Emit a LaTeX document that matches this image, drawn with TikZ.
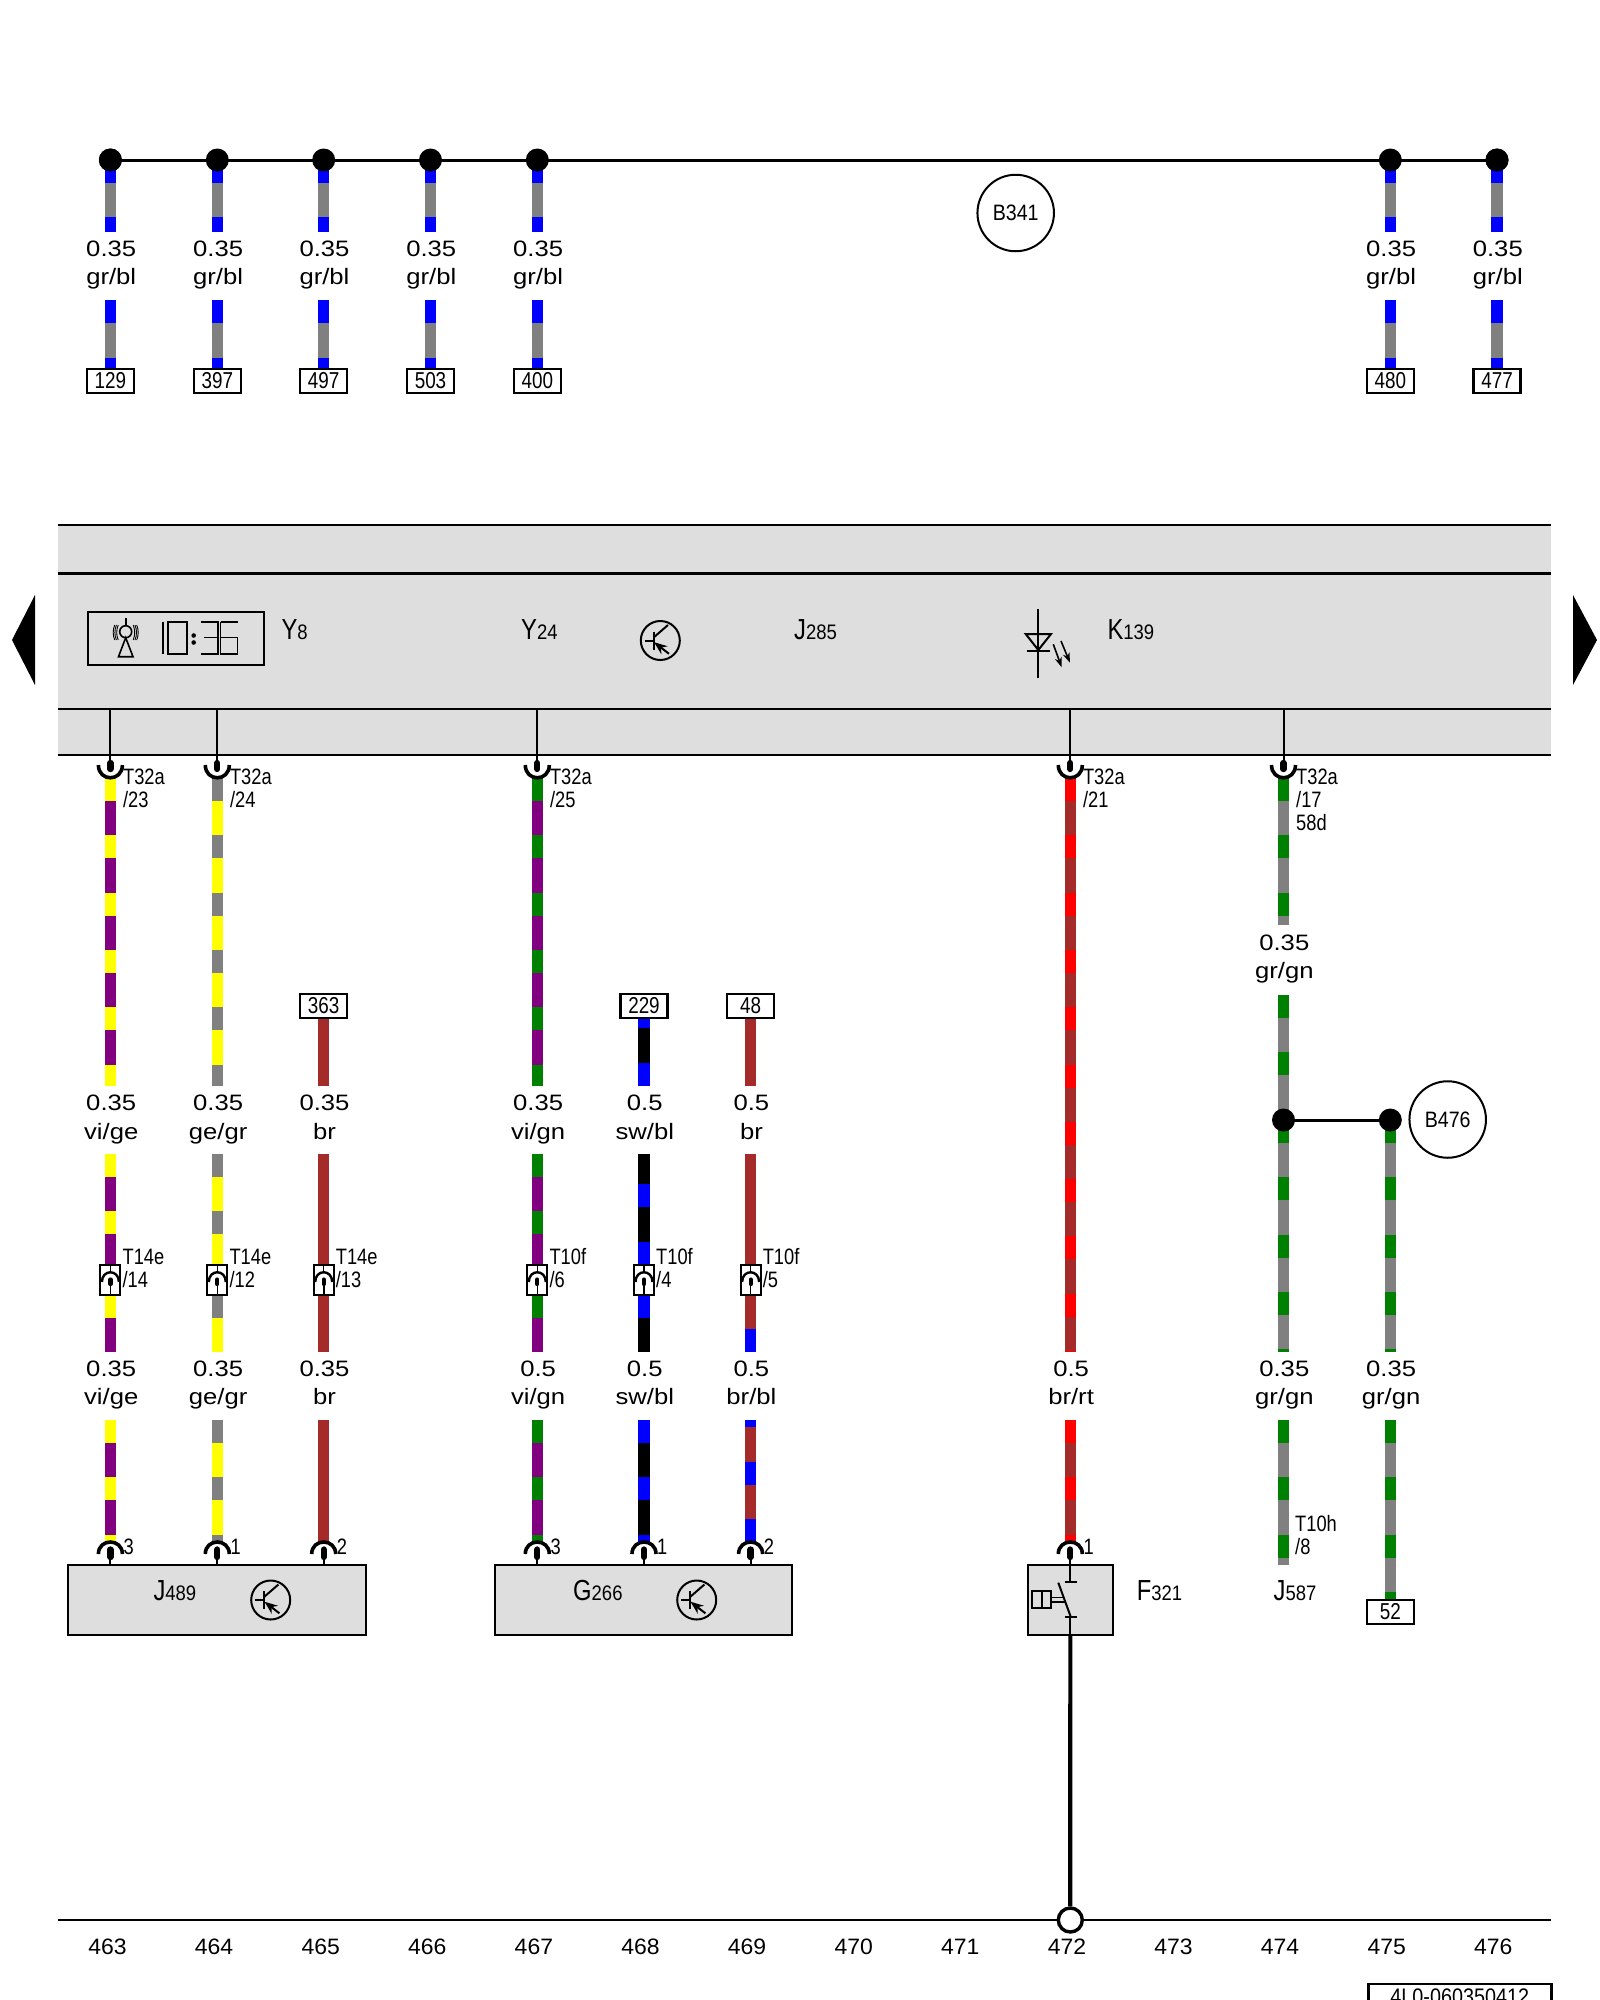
\documentclass[tikz,border=0pt]{standalone}
\usepackage{fontspec}
\usetikzlibrary{arrows.meta}
\setmainfont{Liberation Sans}
\newfontfamily\fwide[FakeStretch=1.15]{Liberation Sans}
\newfontfamily\fnorm[FakeStretch=1.03]{Liberation Sans}
\newfontfamily\fnarrow[FakeStretch=0.82]{Liberation Sans}
\newfontfamily\fmid[FakeStretch=0.88]{Liberation Sans}
\definecolor{wbl}{HTML}{0000FF}
\definecolor{wgr}{HTML}{808080}
\definecolor{wge}{HTML}{FFFF00}
\definecolor{wvi}{HTML}{800080}
\definecolor{wgn}{HTML}{008000}
\definecolor{wbr}{HTML}{A52A2A}
\definecolor{wrt}{HTML}{FF0000}
\definecolor{wsw}{HTML}{000000}
\definecolor{panel}{HTML}{DEDEDE}
\tikzset{
  wirestyle/.style={line width=11.5pt},
  dot/.style={circle,fill=black,minimum size=23pt,inner sep=0pt,outer sep=0pt},
  wiretext/.style={anchor=base,inner sep=0pt,font=\fwide\fontsize{22.3}{24}\selectfont},
  tagtext/.style={anchor=base west,inner sep=0pt,font=\fnarrow\fontsize{22.3}{24}\selectfont},
  numbox/.style={draw=black,line width=2.2pt,fill=white,minimum width=47pt,minimum height=24pt,inner sep=0pt,outer sep=0pt,font=\fnarrow\fontsize{23}{24}\selectfont},
  ringnode/.style={draw=black,line width=2pt,circle,fill=white,minimum size=76.5pt,inner sep=0pt,font=\fmid\fontsize{22.3}{24}\selectfont},
  compbox/.style={draw=black,line width=2.1pt,fill=panel,minimum height=69.7pt,inner sep=0pt,outer sep=0pt},
  compname/.style={anchor=base west,inner sep=0pt},
  colnum/.style={anchor=base,inner sep=0pt,font=\fnorm\fontsize{22.3}{24}\selectfont},
  rail/.style={line width=2.4pt,black},
  thinl/.style={line width=2pt,black},
  arcl/.style={line width=3.6pt,black},
  pinfill/.style={line width=6.3pt,black,line cap=round},
}
\newcommand{\elwire}[7]{% name,x,y1,y2,c1,c2,y0
  \coordinate (#1a) at (#2,#3);
  \coordinate (#1b) at (#2,#4);
  \draw[wirestyle,#6] (#1a) -- (#1b);
  \pgfmathsetmacro\wph{mod(#3-#7,57.3)}
  \draw[wirestyle,#5,dash pattern=on 23pt off 34.3pt,dash phase=\wph pt] (#1a) -- (#1b);
}
\newcommand{\wlab}[5]{% name,x,baseline,l1,l2
  \node[wiretext] (#1s) at ({#2+0.8},#3) {#4};
  \node[wiretext] (#1c) at ({#2+0.8},#3+28.5) {#5};
}
\newcommand{\pinU}[2]{% name,x panel pin
  \coordinate (#1t) at (#2,709);
  \coordinate (#1m) at (#2,762);
  \draw[thinl] (#1t) -- (#1m);
  \draw[pinfill] (#2,763) -- (#2,769);
  \draw[arcl] ({#2-12},765) .. controls ({#2-12},782) and ({#2+12},782) .. ({#2+12},765);
}
\newcommand{\pinD}[2]{% name,x component pin
  \coordinate (#1t) at (#2,1550);
  \coordinate (#1b) at (#2,1565);
  \draw[pinfill] (#2,1549.5) -- (#2,1557);
  \draw[thinl] (#1t) -- (#1b);
  \draw[arcl] ({#2-12},1554) .. controls ({#2-12},1538) and ({#2+12},1538) .. ({#2+12},1554);
}
\newcommand{\inlbox}[2]{% name,x
  \node[draw=black,line width=2pt,fill=white,minimum width=20pt,minimum height=29.5pt,inner sep=0pt,outer sep=0pt] (#1) at (#2,1280) {};
  \draw[line width=1.3pt] (#1.north) -- (#2,1273);
  \draw[line width=2.4pt] ({#2-8.5},1282) .. controls ({#2-8.5},1269) and ({#2+8.5},1269) .. ({#2+8.5},1282);
  \draw[line width=1.6pt] (#2,1284) -- (#1.south);
  \draw[line width=4.2pt,line cap=round] (#2,1279.5) -- (#2,1284);
}
\newcommand{\transistor}[2]{%
  \draw[line width=2pt,fill=panel] (#1,#2) circle[radius=19.5];
  \draw[line width=2pt] ({#1-15.7},#2) -- ({#1-6.7},#2);
  \draw[line width=2pt] ({#1-6.7},{#2-9}) -- ({#1-6.7},{#2+9});
  \draw[line width=2pt] ({#1-6.7},{#2-3}) -- ({#1+7.7},{#2-15.5});
  \draw[line width=2pt,-{Stealth[length=13pt,width=10pt]}] ({#1+8.7},{#2+13.3}) -- ({#1-6.2},{#2+1.7});
}
\newcommand{\bigsub}[2]{{\fnarrow\fontsize{29}{30}\selectfont #1}{\fmid\fontsize{21}{24}\selectfont #2}}
\begin{document}
\begin{tikzpicture}[x=1pt,y=-1pt]
\useasboundingbox (0,0) rectangle (1600,2000);
% panel
\fill[panel] (57.5,525) rectangle (1550.6,755);
\draw[rail] (57.5,525) -- (1550.6,525);
\draw[rail] (57.5,573.5) -- (1550.6,573.5);
\draw[rail] (57.5,709) -- (1550.6,709);
\draw[rail,line width=2.8pt] (57.5,755) -- (1550.6,755);
\fill (35,595) -- (12,640) -- (35,685) -- cycle;
\fill (1573,595) -- (1597,640) -- (1573,685) -- cycle;
% Y8 display
\draw[line width=2.2pt] (87.8,611.7) rectangle (263.7,665);
\draw[line width=1.6pt] (125.7,618) -- (125.7,626);
\draw[line width=1.6pt] (125.7,631.7) circle[radius=6];
\draw[line width=1.6pt] (125.7,637.7) -- (118.5,656.7) -- (133,656.7) -- cycle;
\foreach \s in {-1,1}{
  \foreach \d in {7.5,9.3,11}{
    \draw[line width=0.9pt] ({125.7+\s*\d},625) .. controls ({125.7+\s*(\d+2)},630) and ({125.7+\s*(\d+2)},635) .. ({125.7+\s*\d},640);
  }
}
\draw[line width=2pt] (162.5,621.7) -- (162.5,654);
\draw[line width=1.8pt] (168,621.7) rectangle (186.6,654);
\fill (193.7,635.5) circle[radius=2.3];
\fill (193.7,642.5) circle[radius=2.3];
\draw[line width=1.8pt] (200.8,621.7) -- (217.8,621.7) -- (217.8,654) -- (200.8,654);
\draw[line width=1.8pt] (204,637.5) -- (217.8,637.5);
\draw[line width=1.8pt] (237.5,637.5) -- (220.5,637.5) -- (220.5,621.7);
\draw[line width=1.8pt] (220.5,637.5) -- (220.5,654) -- (237.5,654) -- (237.5,637.5);
\draw[line width=1.8pt] (220.5,621.7) -- (237.5,621.7);
\node[compname] (y8) at (281.4,639.3) {\bigsub{Y}{8}};
\node[compname] (y24) at (521,639.3) {\bigsub{Y}{24}};
\node[compname] (j285) at (794,639.3) {\bigsub{J}{285}};
\node[compname] (k139) at (1107.3,639.3) {\bigsub{K}{139}};
\transistor{660.3}{640.5}
% LED
\draw[line width=2pt] (1038.3,609.3) -- (1038.3,678.3);
\draw[line width=2pt] (1025.7,634) -- (1051,634) -- (1038.3,650) -- cycle;
\draw[line width=2pt] (1026.7,650.7) -- (1050,650.7);
\draw[line width=1.6pt,-{Stealth[length=10pt,width=7pt]}] (1053.3,644.3) -- (1061.7,667.3);
\draw[line width=1.6pt,-{Stealth[length=10pt,width=7pt]}] (1061,641) -- (1070,662.7);
% top bus
\node[dot] (d1) at (110.4,160) {};
\node[dot] (d7) at (1497,160) {};
\foreach \i/\x/\n in {1/110.4/129,2/217.3/397,3/323.7/497,4/430.5/503,5/537.3/400,6/1390.3/480,7/1497/477}{
  \elwire{tw\i}{\x}{160}{232.3}{wbl}{wgr}{160}
  \elwire{tx\i}{\x}{300.3}{368.5}{wbl}{wgr}{300.3}
  \wlab{tl\i}{\x}{256.3}{0.35}{gr/bl}
  \node[numbox] (tb\i) at (\x,380.6) {\n};
  \node[dot] (d\i) at (\x,160) {};
}
\draw[line width=3pt] (d1.center) -- (d7.center);
\node[ringnode] (b341) at (1015.7,213) {B341};
% upper wires
\elwire{a1}{110.4}{778}{1085.5}{wge}{wvi}{778}
\elwire{a2}{217.3}{778}{1085.5}{wgr}{wge}{778}
\elwire{a5}{537.3}{778}{1085.5}{wgn}{wvi}{778}
\elwire{a10}{1070.3}{778}{1352.3}{wrt}{wbr}{778}
\elwire{a12}{1283.5}{778}{925}{wgn}{wgr}{778}
\elwire{a3}{323.7}{1018}{1085.5}{wbr}{wbr}{1018}
\elwire{a6}{644}{1018}{1085.5}{wbl}{wsw}{1005.3}
\elwire{a7}{750.6}{1018}{1085.5}{wbr}{wbr}{1018}
\node[numbox] (n363) at (323.7,1006) {363};
\node[numbox] (n229) at (644,1006) {229};
\node[numbox] (n48) at (750.6,1006) {48};
\pinU{p1}{110.4}\pinU{p2}{217.3}\pinU{p5}{537.3}\pinU{p10}{1070.3}\pinU{p12}{1283.5}
\foreach \x/\nm/\b in {110.4/u1/23,217.3/u2/24,537.3/u5/25,1070.3/u10/21,1283.5/u12/17}{
  \node[tagtext] (\nm a) at (\x+12.5,784.3) {T32a};
  \node[tagtext] (\nm b) at (\x+12.5,807.7) {/\b};
}
\node[tagtext] (u12c) at (1296,830) {58d};
% labels row 2
\wlab{m1}{110.4}{1110.5}{0.35}{vi/ge}
\wlab{m2}{217.3}{1110.5}{0.35}{ge/gr}
\wlab{m3}{323.7}{1110.5}{0.35}{br}
\wlab{m5}{537.3}{1110.5}{0.35}{vi/gn}
\wlab{m6}{644}{1110.5}{0.5}{sw/bl}
\wlab{m7}{750.6}{1110.5}{0.5}{br}
\wlab{m12}{1283.5}{950}{0.35}{gr/gn}
% middle wires
\elwire{b1}{110.4}{1154}{1265}{wge}{wvi}{1154}
\elwire{c1}{110.4}{1295}{1352.3}{wge}{wvi}{1295}
\elwire{b2}{217.3}{1154}{1265}{wgr}{wge}{1154}
\elwire{c2}{217.3}{1295}{1352.3}{wgr}{wge}{1295}
\elwire{b3}{323.7}{1154}{1352.3}{wbr}{wbr}{1154}
\elwire{b5}{537.3}{1154}{1265}{wgn}{wvi}{1154}
\elwire{c5}{537.3}{1295}{1352.3}{wgn}{wvi}{1295}
\elwire{b6}{644}{1154}{1265}{wbl}{wsw}{1127.1}
\elwire{c6}{644}{1295}{1352.3}{wbl}{wsw}{1295}
\elwire{b7}{750.6}{1154}{1265}{wbr}{wbr}{1154}
\elwire{c7}{750.6}{1295}{1352.3}{wbl}{wbr}{1272}
\elwire{b12}{1283.5}{995}{1120}{wgn}{wgr}{995}
\elwire{c12}{1283.5}{1120}{1352.3}{wgn}{wgr}{1120}
\elwire{b13}{1390.3}{1120}{1352.3}{wgn}{wgr}{1120}
\node[dot] (d476a) at (1283.5,1120) {};
\node[dot] (d476b) at (1390.3,1120) {};
\draw[line width=3pt] (d476a.center) -- (d476b.center);
\node[ringnode] (b476) at (1447.7,1119.5) {B476};
% inline connectors
\inlbox{i1}{110.4}\inlbox{i2}{217.3}\inlbox{i3}{323.7}\inlbox{i5}{537.3}\inlbox{i6}{644}\inlbox{i7}{750.6}
\foreach \x/\nm/\a/\b in {110.4/v1/T14e/14,217.3/v2/T14e/12,323.7/v3/T14e/13,537.3/v5/T10f/6,644/v6/T10f/4,750.6/v7/T10f/5}{
  \node[tagtext] (\nm a) at (\x+12,1264) {\a};
  \node[tagtext] (\nm b) at (\x+12,1287) {/\b};
}
% labels row 3
\wlab{r1}{110.4}{1376}{0.35}{vi/ge}
\wlab{r2}{217.3}{1376}{0.35}{ge/gr}
\wlab{r3}{323.7}{1376}{0.35}{br}
\wlab{r5}{537.3}{1376}{0.5}{vi/gn}
\wlab{r6}{644}{1376}{0.5}{sw/bl}
\wlab{r7}{750.6}{1376}{0.5}{br/bl}
\wlab{r10}{1070.3}{1376}{0.5}{br/rt}
\wlab{r12}{1283.5}{1376}{0.35}{gr/gn}
\wlab{r13}{1390.3}{1376}{0.35}{gr/gn}
% lower wires
\elwire{e1}{110.4}{1420}{1543}{wge}{wvi}{1420}
\elwire{e2}{217.3}{1420}{1543}{wgr}{wge}{1420}
\elwire{e3}{323.7}{1420}{1543}{wbr}{wbr}{1420}
\elwire{e5}{537.3}{1420}{1543}{wgn}{wvi}{1420}
\elwire{e6}{644}{1420}{1543}{wbl}{wsw}{1420}
\elwire{e7}{750.6}{1420}{1543}{wbl}{wbr}{1404.4}
\elwire{e10}{1070.3}{1420}{1543}{wrt}{wbr}{1420}
\elwire{e12}{1283.5}{1420}{1565}{wgn}{wgr}{1420}
\elwire{e13}{1390.3}{1420}{1601}{wgn}{wgr}{1420}
\node[numbox] (n52) at (1390.3,1612) {52};
% components
\node[compbox,minimum width=298pt] (j489) at (216.8,1599.85) {};
\node[compbox,minimum width=297pt] (g266) at (643.9,1599.85) {};
\node[compbox,minimum width=84.6pt] (f321) at (1070.35,1599.85) {};
\node[compname] (j489t) at (153.3,1600) {\bigsub{J}{489}};
\node[compname] (g266t) at (573,1600) {\bigsub{G}{266}};
\node[compname] (f321t) at (1136.7,1600) {\bigsub{F}{321}};
\node[compname] (j587t) at (1273.5,1600) {\bigsub{J}{587}};
\transistor{270.7}{1600}
\transistor{696.7}{1600}
\pinD{q1}{110.4}\pinD{q2}{217.3}\pinD{q3}{323.7}\pinD{q5}{537.3}\pinD{q6}{644}\pinD{q7}{750.6}\pinD{q10}{1070.3}
\foreach \x/\nm/\a in {110.4/w1/3,217.3/w2/1,323.7/w3/2,537.3/w5/3,644/w6/1,750.6/w7/2,1070.3/w10/1}{
  \node[tagtext] (\nm) at (\x+13,1554) {\a};
}
\node[tagtext] (t10a) at (1295,1531.5) {T10h};
\node[tagtext] (t10b) at (1295,1554) {/8};
% F321 switch
\draw[line width=2pt] (1070.3,1565) -- (1070.3,1581.7);
\draw[line width=2pt] (1065,1581.7) -- (1076.7,1581.7);
\draw[line width=2pt] (1058.3,1582.7) -- (1070.7,1616.7);
\draw[line width=2pt] (1065,1617.3) -- (1076.7,1617.3);
\draw[line width=2pt] (1070.3,1617.3) -- (1070.3,1634.7);
\draw[line width=2pt] (1032.3,1591) rectangle (1050.7,1608.3);
\draw[line width=2pt] (1041.7,1591) -- (1041.7,1608.3);
\draw[line width=1.6pt] (1050.7,1597.3) -- (1063,1597.3);
\draw[line width=1.6pt] (1050.7,1601.7) -- (1064.5,1601.7);
% bottom rail
\coordinate (bl) at (57.5,1920);
\coordinate (br) at (1551,1920);
\draw[line width=2.4pt] (bl) -- (br);
\node[circle,draw=black,line width=3.4pt,fill=white,minimum size=24pt,inner sep=0pt] (gnd) at (1070.3,1920) {};
\draw[line width=4.2pt] (f321.south) -- (gnd.north);
\foreach \n [count=\k from 0] in {463,464,465,466,467,468,469,470,471,472,473,474,475,476}{
  \node[colnum] (c\n) at ({107.5+106.6*\k},1954) {\n};
}
% document number box
\node[draw=black,line width=2.4pt,minimum width=183pt,minimum height=40pt,inner sep=0pt,outer sep=0pt] (docbox) at (1459.8,2004) {};
\node[anchor=base,inner sep=0pt,font=\fmid\fontsize{22.5}{24}\selectfont] (doct) at (1459.8,2004) {4L0-060350412};
\end{tikzpicture}
\end{document}
